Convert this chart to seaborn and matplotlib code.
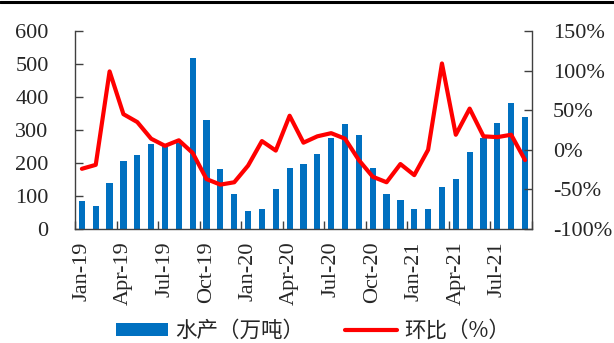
import numpy as np
import pandas as pd
import matplotlib
matplotlib.use("Agg")
import matplotlib.pyplot as plt
import matplotlib.ticker as mticker
from matplotlib.patches import Patch
from matplotlib.lines import Line2D
import seaborn as sns

# Monthly aquatic product output (10k tonnes) and month-on-month change (%)
months = pd.date_range("2019-01-01", "2021-09-01", freq="MS")
month_labels = [d.strftime("%b-%y") for d in months]
output_10kt = [85, 70, 140, 205, 225, 258, 250, 262, 519, 330, 182, 107,
               55, 60, 120, 185, 197, 227, 276, 317, 285, 186, 106, 88,
               60, 60, 128, 152, 233, 277, 320, 381, 338]
mom_pct = [-24, -19, 99, 45, 35, 14, 5, 12, -4, -37, -44, -41,
           -20, 11, -1, 43, 9, 17, 21, 14, -13, -34, -41, -18,
           -32, 0, 109, 19, 52, 17, 16, 19, -13]
bar_name = "水产（万吨）"
line_name = "环比（%）"

df = pd.DataFrame({"month": month_labels, "output": output_10kt,
                   "mom": mom_pct, "pos": np.arange(len(month_labels))})

sns.set_style("ticks")
plt.rcParams["font.family"] = ["Liberation Serif", "DejaVu Serif"]
plt.rcParams["axes.unicode_minus"] = False

fig = plt.figure(figsize=(6.14, 3.43), dpi=100)
ax = fig.add_axes([0.1221, 0.3324, 0.8664 - 0.1221, 0.9096 - 0.3324])
ax2 = ax.twinx()

bar_color = "#0070C0"
line_color = "#FF0000"

sns.barplot(data=df, x="month", y="output", ax=ax, color=bar_color,
            width=0.45, saturation=1, edgecolor="none")
sns.lineplot(data=df, x="pos", y="mom", ax=ax2, color=line_color,
             linewidth=3.0, sort=False)

n = len(month_labels)
ax.set_xlim(-0.5, n - 0.5)
ax.set_ylim(0, 600)
ax2.set_ylim(-100, 150)
ax.set_yticks(np.arange(0, 601, 100))
ax2.set_yticks(np.arange(-100, 151, 50))
ax2.yaxis.set_major_formatter(mticker.FuncFormatter(lambda v, p: f"{int(v)}%"))

# quarterly labels, tick marks on the boundaries between quarters
label_pos = np.arange(0, n, 3)
ax.set_xticks(label_pos)
ax.set_xticklabels([month_labels[i] for i in label_pos], rotation=90,
                   fontsize=16)
ax.set_xticks(np.arange(-0.5, n, 3), minor=True)
ax.tick_params(axis="x", which="major", length=0, pad=9)
ax.tick_params(axis="x", which="minor", direction="in", length=6,
               width=1, color="#404040")
ax.tick_params(axis="y", direction="in", length=6, width=1,
               color="#404040", labelsize=16, pad=19)
ax2.tick_params(axis="y", direction="in", length=6, width=1,
                color="#404040", labelsize=16, pad=15)
ax.set_xlabel("")
ax.set_ylabel("")
ax2.set_xlabel("")
ax2.set_ylabel("")

for a in (ax, ax2):
    a.spines["top"].set_visible(False)
    for s in ("left", "right", "bottom"):
        a.spines[s].set_color("#404040")
        a.spines[s].set_linewidth(1.0)
ax.spines["right"].set_visible(False)
ax2.spines["left"].set_visible(False)
ax2.spines["bottom"].set_visible(False)

# rule along the top edge
fig.add_artist(Line2D([0, 1], [0.995, 0.995], transform=fig.transFigure,
                      color="black", linewidth=2.2))

handles = [Patch(facecolor=bar_color, edgecolor="none"),
           Line2D([0], [0], color=line_color, linewidth=3.0)]
fig.legend(handles, [bar_name, line_name], loc="center",
           bbox_to_anchor=(0.51, 0.035), ncol=2, frameon=False,
           prop={"family": ["Noto Sans CJK SC", "DejaVu Sans"], "size": 15.5},
           handlelength=2.4, handleheight=0.55, handletextpad=0.35,
           columnspacing=1.9, borderpad=0, borderaxespad=0)

fig.savefig("out.png", dpi=100)
